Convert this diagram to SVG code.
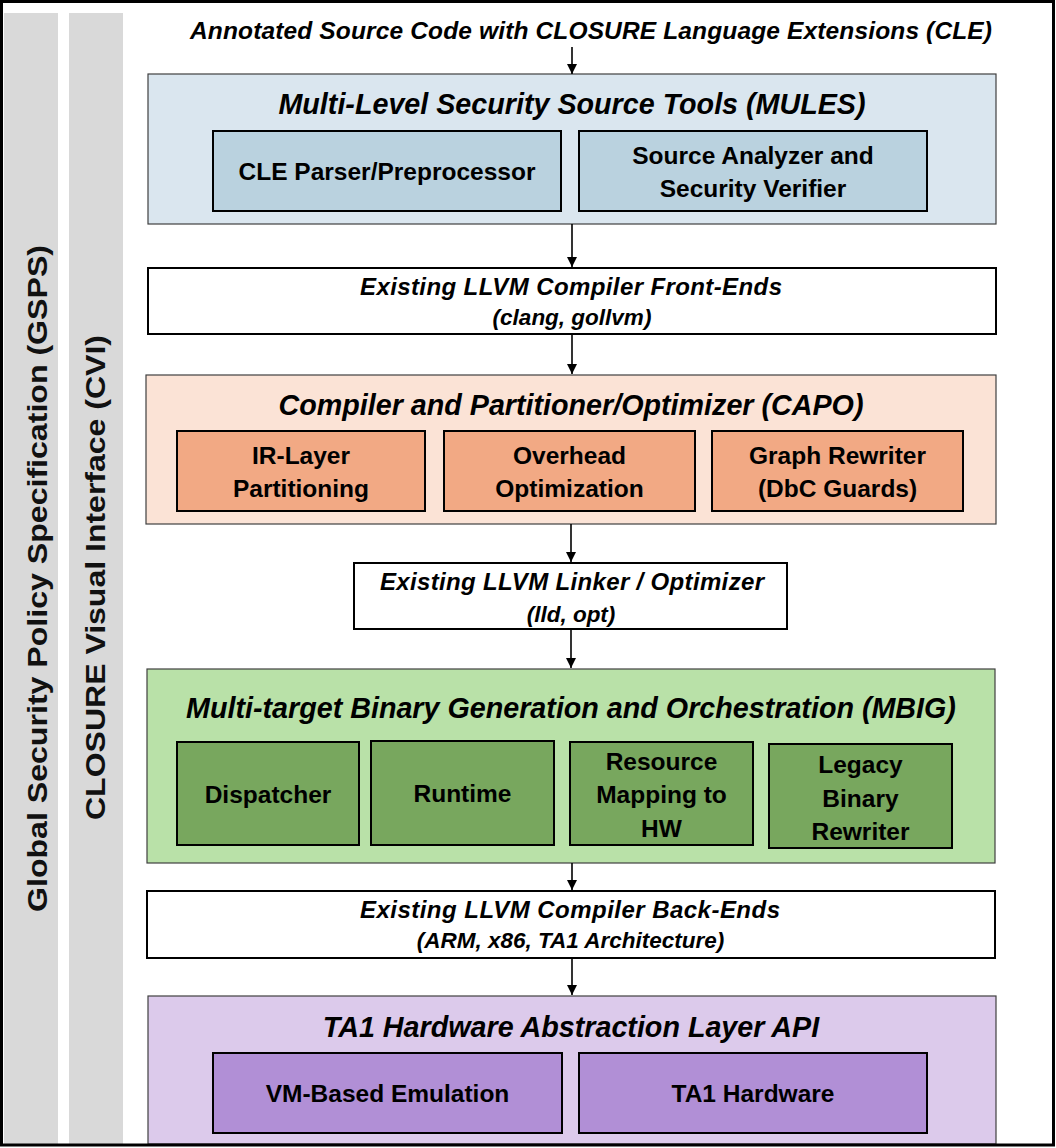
<svg xmlns="http://www.w3.org/2000/svg" width="1056" height="1148" viewBox="0 0 1056 1148">
<defs>
<style>
text{font-family:"Liberation Sans",Arial,sans-serif;font-weight:bold;fill:#000;text-anchor:middle}
.ti{font-style:italic;font-size:28.7px}
.in{font-size:24.5px}
.ll{font-style:italic;font-size:24px}
.ls{font-style:italic;font-size:22.5px}
.bar{fill:#d9d9d9}
.bt{font-size:28px;fill:#111}
.outer{stroke:#404040;stroke-width:1.2}
.inner{stroke:#000;stroke-width:2}
.wbox{fill:#fff;stroke:#000;stroke-width:2}
.conn line{stroke:#000;stroke-width:1.6}
</style>
<marker id="ah" viewBox="0 0 10 10" refX="10" refY="5" markerWidth="10" markerHeight="11" markerUnits="userSpaceOnUse" orient="auto">
<path d="M0,0 L10,5 L0,10 z" fill="#000"/>
</marker>
</defs>
<rect x="0" y="0" width="1056" height="1148" fill="#fff"/>
<g id="gsps">
<rect class="bar" x="4" y="13" width="54" height="1131"/>
<text class="bt" transform="translate(47,578.5) rotate(-90)" textLength="667" lengthAdjust="spacingAndGlyphs">Global Security Policy Specification (GSPS)</text>
</g>
<g id="cvi">
<rect class="bar" x="69" y="13" width="54" height="1131"/>
<text class="bt" transform="translate(105,577.5) rotate(-90)" textLength="485" lengthAdjust="spacingAndGlyphs">CLOSURE Visual Interface (CVI)</text>
</g>
<g id="input">
<text class="ll" x="591" y="39" style="font-size:24.5px" textLength="802" lengthAdjust="spacing">Annotated Source Code with CLOSURE Language Extensions (CLE)</text>
</g>
<g id="mules">
<rect class="outer" x="148" y="74" width="848" height="150" fill="#dae6ef"/>
<text class="ti" x="572" y="114">Multi-Level Security Source Tools (MULES)</text>
<g id="cle-parser">
<rect class="inner" x="213" y="131" width="348" height="80" fill="#bad2df"/>
<text class="in" x="387" y="180">CLE Parser/Preprocessor</text>
</g>
<g id="source-analyzer">
<rect class="inner" x="579" y="131" width="348" height="80" fill="#bad2df"/>
<text class="in" x="753" y="164">Source Analyzer and</text>
<text class="in" x="753" y="197">Security Verifier</text>
</g>
</g>
<g id="front-ends">
<rect class="wbox" x="148" y="268" width="848" height="66"/>
<text class="ll" x="571" y="295" textLength="422" lengthAdjust="spacing">Existing LLVM Compiler Front-Ends</text>
<text class="ls" x="572" y="325">(clang, gollvm)</text>
</g>
<g id="capo">
<rect class="outer" x="146" y="375" width="850" height="149" fill="#fbe3d6"/>
<text class="ti" x="571" y="415">Compiler and Partitioner/Optimizer (CAPO)</text>
<g id="ir-layer">
<rect class="inner" x="177" y="431" width="248" height="80" fill="#f2a984"/>
<text class="in" x="301" y="464">IR-Layer</text>
<text class="in" x="301" y="497">Partitioning</text>
</g>
<g id="overhead">
<rect class="inner" x="444" y="431" width="251" height="80" fill="#f2a984"/>
<text class="in" x="569.5" y="464">Overhead</text>
<text class="in" x="569.5" y="497">Optimization</text>
</g>
<g id="graph-rewriter">
<rect class="inner" x="712" y="431" width="251" height="80" fill="#f2a984"/>
<text class="in" x="837.5" y="464">Graph Rewriter</text>
<text class="in" x="837.5" y="497">(DbC Guards)</text>
</g>
</g>
<g id="linker">
<rect class="wbox" x="354" y="563" width="433" height="66"/>
<text class="ll" x="572" y="590" textLength="384" lengthAdjust="spacing">Existing LLVM Linker / Optimizer</text>
<text class="ls" x="571" y="622">(lld, opt)</text>
</g>
<g id="mbig">
<rect class="outer" x="147" y="669" width="848" height="194" fill="#b9e1a8"/>
<text class="ti" x="571" y="718">Multi-target Binary Generation and Orchestration (MBIG)</text>
<g id="dispatcher">
<rect class="inner" x="177" y="742" width="182" height="103" fill="#78a75e"/>
<text class="in" x="268" y="803">Dispatcher</text>
</g>
<g id="runtime">
<rect class="inner" x="371" y="741" width="183" height="104" fill="#78a75e"/>
<text class="in" x="462.5" y="802">Runtime</text>
</g>
<g id="resource-mapping">
<rect class="inner" x="570" y="742" width="183" height="103" fill="#78a75e"/>
<text class="in" x="661.5" y="770">Resource</text>
<text class="in" x="661.5" y="803">Mapping to</text>
<text class="in" x="661.5" y="837">HW</text>
</g>
<g id="legacy-rewriter">
<rect class="inner" x="769" y="744" width="183" height="104" fill="#78a75e"/>
<text class="in" x="860.5" y="773">Legacy</text>
<text class="in" x="860.5" y="807">Binary</text>
<text class="in" x="860.5" y="840">Rewriter</text>
</g>
</g>
<g id="back-ends">
<rect class="wbox" x="147" y="891" width="848" height="67"/>
<text class="ll" x="570" y="918" textLength="420" lengthAdjust="spacing">Existing LLVM Compiler Back-Ends</text>
<text class="ls" x="570.5" y="948">(ARM, x86, TA1 Architecture)</text>
</g>
<g id="ta1">
<rect class="outer" x="148" y="996" width="848" height="148" fill="#dccaeb"/>
<text class="ti" x="571" y="1037">TA1 Hardware Abstraction Layer API</text>
<g id="vm-emulation">
<rect class="inner" x="213" y="1053" width="349" height="80" fill="#b18fd6"/>
<text class="in" x="387.5" y="1102">VM-Based Emulation</text>
</g>
<g id="ta1-hardware">
<rect class="inner" x="579" y="1053" width="348" height="80" fill="#b18fd6"/>
<text class="in" x="753" y="1102">TA1 Hardware</text>
</g>
</g>
<g id="connectors" class="conn">
<line x1="572" y1="47" x2="572" y2="74" marker-end="url(#ah)"/>
<line x1="572" y1="224" x2="572" y2="267" marker-end="url(#ah)"/>
<line x1="572" y1="335" x2="572" y2="374" marker-end="url(#ah)"/>
<line x1="571" y1="524" x2="571" y2="562" marker-end="url(#ah)"/>
<line x1="571" y1="630" x2="571" y2="668" marker-end="url(#ah)"/>
<line x1="572" y1="863" x2="572" y2="890" marker-end="url(#ah)"/>
<line x1="572" y1="959" x2="572" y2="995" marker-end="url(#ah)"/>
</g>
<rect x="1.5" y="1.5" width="1052" height="1143.5" fill="none" stroke="#000" stroke-width="3"/>
</svg>
